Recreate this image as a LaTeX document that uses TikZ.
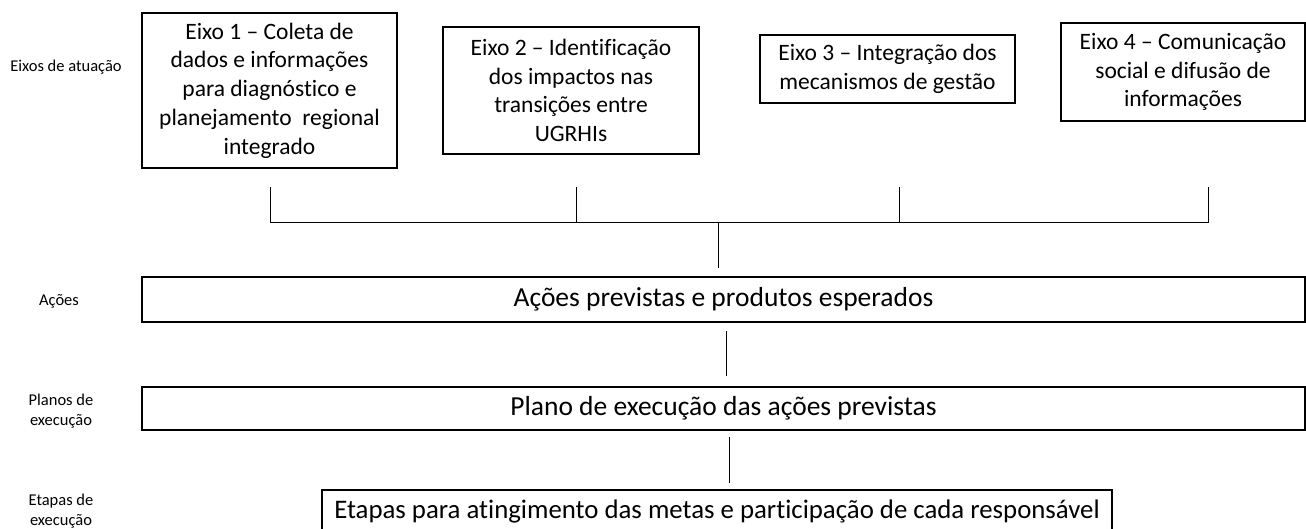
\documentclass[tikz,border=0pt]{standalone}
\usepackage{fontspec}
\setmainfont{Carlito}[Ligatures=NoCommon]
\usetikzlibrary{positioning}
\tikzset{
  eixo box/.style={
    draw, line width=1.8pt,  % moldura dos eixos
    align=center, inner sep=0pt,
    font=\fontsize{23.5}{28.7}\selectfont
  },
  faixa box/.style={
    draw, line width=1.8pt,  % faixas largas
    align=center, inner sep=0pt,
    font=\fontsize{27.5}{32}\selectfont
  },
  rotulo/.style={align=center, font=\fontsize{16.5}{19.5}\selectfont},
  conector/.style={line width=0.8pt}
}

\begin{document}
\begin{tikzpicture}[x=1pt, y=-1pt]
    \useasboundingbox (0,0) rectangle (1306,529);
    \clip (0,0) rectangle (1306,529);

    % Rotulos da esquerda
    \node[rotulo] (reixos) at (66,67) {Eixos de atuação};
    \node[rotulo] (racoes) at (59,301) {Ações};
    \node[rotulo] (rplanos) at (61,411) {Planos de\\execução};
    \node[rotulo] (retapas) at (61,511) {Etapas de\\execução};

    % Eixos de atuacao
    \node[eixo box, minimum width=255, minimum height=155] (eixo1) at (269.5,90.5)
        {Eixo 1 – Coleta de\\dados e informações\\para diagnóstico e\\planejamento\ \ regional\\integrado};
    \node[eixo box, minimum width=256, minimum height=127] (eixo2) at (571,90.5)
        {Eixo 2 – Identificação\\dos impactos nas\\transições entre\\UGRHIs};
    \node[eixo box, minimum width=255, minimum height=68] (eixo3) at (887.5,69)
        {Eixo 3 – Integração dos\\mecanismos de gestão};
    \node[eixo box, minimum width=244, minimum height=98] (eixo4) at (1183,72)
        {Eixo 4 – Comunicação\\social e difusão de\\informações};

    % Faixas
    \node[faixa box, minimum width=1163, minimum height=45] (acoes) at (723.5,299.5)
        {Ações previstas e produtos esperados};
    \node[faixa box, minimum width=1163, minimum height=43] (plano) at (723.5,408.5)
        {Plano de execução das ações previstas};
    \node[faixa box, minimum width=790, minimum height=44, anchor=north,
          font=\fontsize{26.8}{32}\selectfont] (etapas) at (717,489)
        {Etapas para atingimento das metas e participação de cada responsável};

    % Chave dos eixos
    \def\ytop{187}
    \def\ybar{222}
    \coordinate (t1) at (270,\ytop);
    \coordinate (t2) at (576,\ytop);
    \coordinate (t3) at (899,\ytop);
    \coordinate (t4) at (1208,\ytop);
    \coordinate (b1) at (270,\ybar);
    \coordinate (b2) at (576,\ybar);
    \coordinate (b3) at (899,\ybar);
    \coordinate (b4) at (1208,\ybar);
    \draw[conector] (t1) -- (b1) -- (b4) -- (t4);
    \draw[conector] (t2) -- (b2);
    \draw[conector] (t3) -- (b3);

    % Ligacoes verticais
    \coordinate (m1) at (718,\ybar);
    \coordinate (n1) at (718,268);
    \coordinate (m2) at (726,331);
    \coordinate (n2) at (726,376);
    \coordinate (m3) at (729,437);
    \coordinate (n3) at (729,483);
    \draw[conector] (m1) -- (n1);
    \draw[conector] (m2) -- (n2);
    \draw[conector] (m3) -- (n3);
\end{tikzpicture}
\end{document}
